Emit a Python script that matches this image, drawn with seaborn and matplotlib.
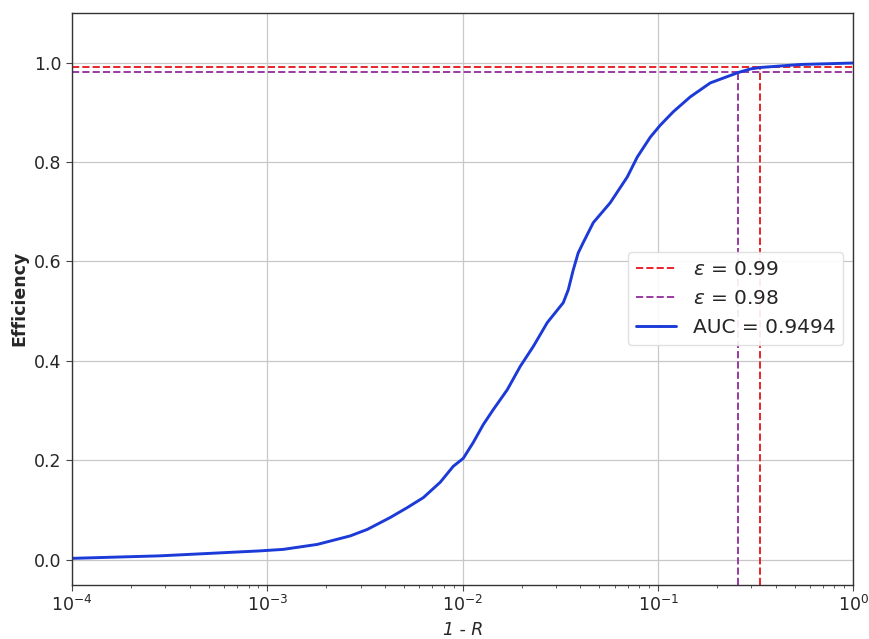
import numpy as np
import pandas as pd
import matplotlib
matplotlib.use("Agg")
import matplotlib.pyplot as plt
import seaborn as sns

# Background rejection (1 - R) vs signal efficiency
one_minus_r = [1.01e-4, 2.82e-4, 5.09e-4, 9.18e-4, 1.205e-3, 1.80e-3, 2.65e-3,
               3.24e-3, 4.25e-3, 5.20e-3, 6.28e-3, 7.67e-3, 8.94e-3, 1.006e-2,
               1.132e-2, 1.274e-2, 1.433e-2, 1.690e-2, 1.970e-2, 2.297e-2,
               2.709e-2, 3.27e-2, 3.47e-2, 3.68e-2, 3.90e-2, 4.14e-2, 4.66e-2,
               5.69e-2, 6.96e-2, 7.83e-2, 9.13e-2, 1.027e-1, 1.197e-1, 1.463e-1,
               1.852e-1, 2.58e-1, 2.97e-1, 3.34e-1, 5.35e-1, 1.0]
efficiency = [0.003, 0.008, 0.013, 0.018, 0.021, 0.031, 0.048,
              0.061, 0.085, 0.105, 0.125, 0.156, 0.188, 0.204,
              0.236, 0.272, 0.302, 0.342, 0.389, 0.429,
              0.477, 0.517, 0.543, 0.583, 0.617, 0.638, 0.678,
              0.718, 0.770, 0.810, 0.850, 0.874, 0.901, 0.931,
              0.959, 0.980, 0.987, 0.990, 0.996, 0.999]

eps_levels = [0.99, 0.98]
eps_x = [0.334, 0.258]
eps_colors = ["#e8242a", "#9a3aa0"]
auc = 0.9494

sns.set_style("white")
plt.rcParams["font.family"] = ["DejaVu Sans"]

fig = plt.figure(figsize=(8.69, 6.39), dpi=100)
ax = fig.add_axes([0.083, 0.085, 0.899, 0.895])

ymin, ymax = -0.05, 1.1
for lvl, xv, col in zip(eps_levels, eps_x, eps_colors):
    ax.axhline(lvl, color=col, linestyle="--", linewidth=1.4,
               label=rf"$\epsilon$ = {lvl}")
    ax.vlines(xv, ymin, lvl, color=col, linestyle="--", linewidth=1.4)

df = pd.DataFrame({"x": one_minus_r, "y": efficiency})
sns.lineplot(data=df, x="x", y="y", ax=ax, color="#1c3ad8", linewidth=2.1,
             label=f"AUC = {auc}", estimator=None, sort=False)

ax.set_xscale("log")
ax.set_xlim(1e-4, 1.0)
ax.set_ylim(ymin, ymax)
ax.set_yticks([0.0, 0.2, 0.4, 0.6, 0.8, 1.0])
ax.grid(True, which="major", color="#c8c8c8", linewidth=0.9)
ax.tick_params(axis="both", which="major", labelsize=12.5, length=4,
               direction="out", bottom=True, left=True, color="#444444")
ax.tick_params(axis="x", which="minor", length=2, bottom=True, color="#444444")
for s in ax.spines.values():
    s.set_color("#333333")
    s.set_linewidth(1.0)

ax.set_xlabel("1 - R", fontsize=12.5, fontstyle="italic")
ax.set_ylabel("Efficiency", fontsize=12.5, fontweight="bold")

ax.legend(loc="center right", fontsize=14.5, frameon=True, framealpha=0.9,
          edgecolor="#dddddd", handlelength=2.0, bbox_to_anchor=(1.0, 0.50))

fig.savefig("out.png", dpi=100)
